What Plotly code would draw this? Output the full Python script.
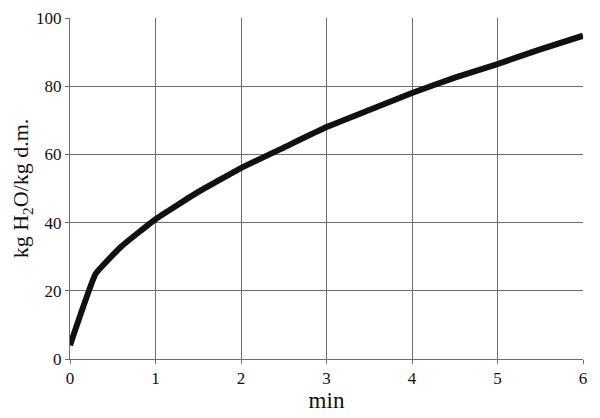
import plotly.graph_objects as go

time_min = [0, 0.3, 0.6, 1.0, 1.5, 2.0, 2.5, 3.0, 3.5, 4.0, 4.5, 5.0, 5.5, 6.0]
moisture = [4, 25, 33, 41, 49, 56, 62, 68, 73, 78, 82.5, 86.5, 90.8, 94.8]

x_ticks = [0, 1, 2, 3, 4, 5, 6]
y_ticks = [0, 20, 40, 60, 80, 100]

SERIF = "Liberation Serif"

fig = go.Figure()
fig.add_trace(go.Scatter(
    x=time_min, y=moisture, mode="lines",
    line=dict(color="#111111", width=6, shape="spline", smoothing=0.3),
    showlegend=False,
))

axis_common = dict(
    showgrid=True, gridcolor="#6e6e6e", gridwidth=1,
    showline=True, linecolor="#6e6e6e", linewidth=1,
    ticks="outside", ticklen=4, tickcolor="#6e6e6e",
    tickfont=dict(family=SERIF, size=17, color="#111"),
    zeroline=False,
)

fig.update_layout(
    width=600, height=418,
    font=dict(family=SERIF, color="#111"),
    margin=dict(l=62, r=25, t=10, b=67, autoexpand=False),
    paper_bgcolor="white", plot_bgcolor="white",
    xaxis=dict(range=[0, 6], tickvals=x_ticks,
               title=dict(text="min", font=dict(family=SERIF, size=23, color="#111"), standoff=2),
               **axis_common),
    yaxis=dict(range=[0, 100], tickvals=y_ticks,
               title=dict(text="kg H<sub>2</sub>O/kg d.m.", font=dict(family=SERIF, size=22, color="#111"), standoff=4),
               **axis_common),
)

fig.write_html("out.html")
